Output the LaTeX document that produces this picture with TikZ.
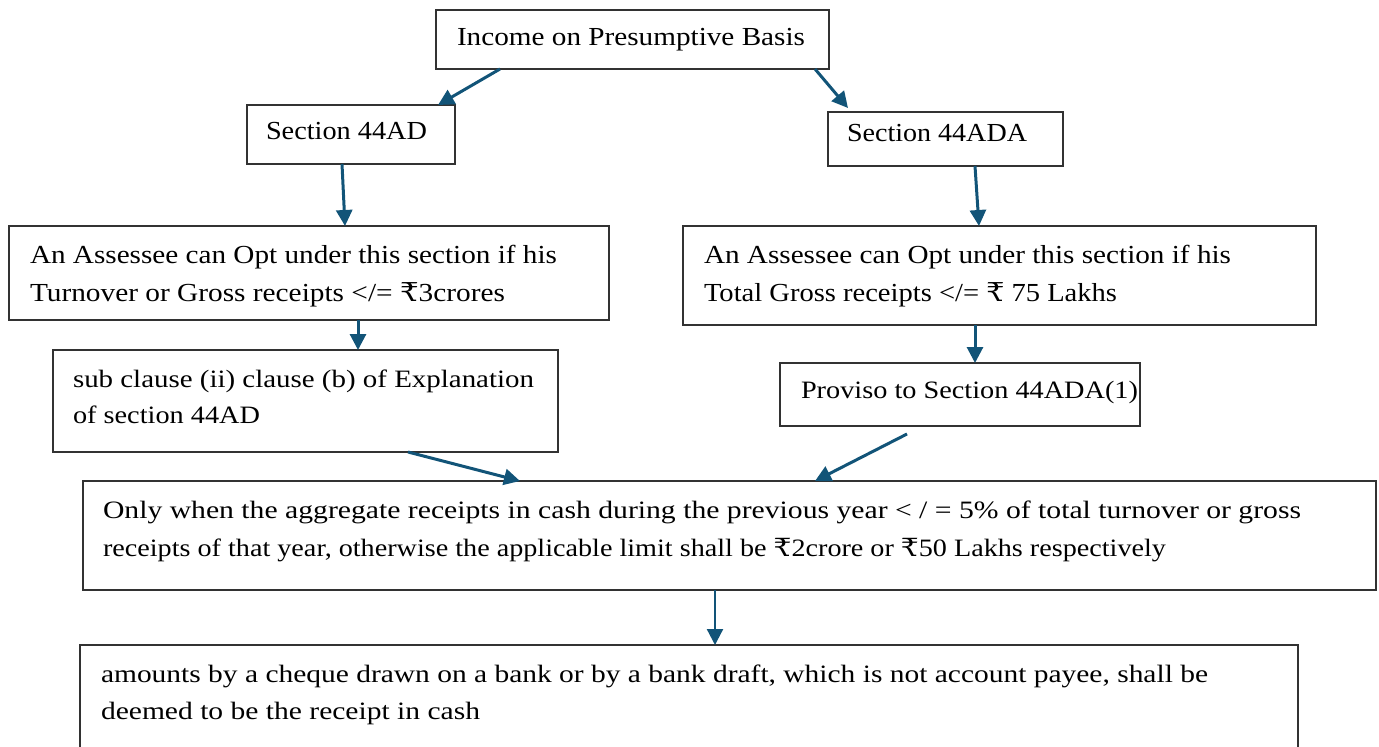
\documentclass[tikz,border=0pt]{standalone}
\usepackage{fontspec}
\setmainfont{Liberation Serif}
\newfontfamily\rupeefont{DejaVu Serif}
\usepackage{graphicx}
\usetikzlibrary{arrows.meta,calc}
\definecolor{arrowblue}{RGB}{18,84,120}
\definecolor{boxline}{RGB}{50,50,50}
% set a line of text to an exact width, keeping its height
\newcommand{\fitw}[2]{\resizebox{#1pt}{\height}{#2}}
\newcommand{\Rs}{{\rupeefont ₹}}
\begin{document}
\begin{tikzpicture}[x=1pt,y=-1pt,
  box/.style={draw=boxline,line width=1.6pt,rectangle,inner sep=0pt,outer sep=0pt,anchor=north west},
  txt/.style={inner sep=0pt,outer sep=0pt,anchor=base west,font=\fontsize{26}{38}\selectfont},
  small/.style={txt,font=\fontsize{25}{36}\selectfont},
  arr/.style={draw=arrowblue,line width=3pt,-{Triangle[length=16pt,width=16pt]}},
  thinarr/.style={arr,line width=2.3pt}]
\useasboundingbox (0,0) rectangle (1379,747);
\clip (0,0) rectangle (1379,747);

% boxes
\node[box,minimum width=393pt,minimum height=59pt]  (top)    at (436,10)  {};
\node[box,minimum width=208pt,minimum height=59pt]  (s44ad)  at (247,105) {};
\node[box,minimum width=235pt,minimum height=54pt]  (s44ada) at (828,112) {};
\node[box,minimum width=600pt,minimum height=94pt]  (lbig)   at (9,226)   {};
\node[box,minimum width=633pt,minimum height=99pt]  (rbig)   at (683,226) {};
\node[box,minimum width=505pt,minimum height=102pt] (sub)    at (53,350)  {};
\node[box,minimum width=360pt,minimum height=63pt]  (prov)   at (780,363) {};
\node[box,minimum width=1293pt,minimum height=109pt] (only)  at (83,481)  {};
\node[box,minimum width=1218pt,minimum height=120pt] (bottom) at (80,645) {};

% texts
\node[txt] (ttop) at (457,45) {\fitw{348}{Income on Presumptive Basis}};
\node[txt] (ta) at (266,139) {\fitw{161}{Section 44AD}};
\node[txt] (tb) at (847,141) {\fitw{180}{Section 44ADA}};
\node[txt] (tl1) at (30,263) {\fitw{527}{An Assessee can Opt under this section if his}};
\node[txt] (tl2) at (30,301) {\fitw{475}{Turnover or Gross receipts </= \Rs3crores}};
\node[txt] (tr1) at (704,263) {\fitw{527}{An Assessee can Opt under this section if his}};
\node[txt] (tr2) at (704,301) {\fitw{413}{Total Gross receipts </= \Rs{} 75 Lakhs}};
\node[small] (ts1) at (73,387) {\fitw{461}{sub clause (ii) clause (b) of Explanation}};
\node[small] (ts2) at (73,423) {\fitw{187}{of section 44AD}};
\node[small] (tp) at (801,398) {\fitw{337}{Proviso to Section 44ADA(1)}};
\node[small] (to1) at (103,518) {\fitw{1198}{Only when the aggregate receipts in cash during the previous year < / = 5\% of total turnover or gross}};
\node[small] (to2) at (103,556) {\fitw{1063}{receipts of that year, otherwise the applicable limit shall be \Rs2crore or \Rs50 Lakhs respectively}};
\node[small] (tm1) at (101,682) {\fitw{1107}{amounts by a cheque drawn on a bank or by a bank draft, which is not account payee, shall be}};
\node[small] (tm2) at (101,719) {\fitw{379}{deemed to be the receipt in cash}};

% connectors
\draw[arr] ($(top.south west)+(64,0)$) -- ($(s44ad.north west)+(191,0)$);
\draw[arr] ($(top.south west)+(379,0)$) -- ($(s44ada.north west)+(20,-4)$);
\draw[arr] ($(s44ad.south west)+(95,0)$) -- ($(lbig.north west)+(336,0)$);
\draw[arr] ($(s44ada.south west)+(147,0)$) -- ($(rbig.north west)+(296,0)$);
\draw[arr] ($(lbig.south west)+(349,0)$) -- ($(sub.north west)+(305,0)$);
\draw[arr] ($(rbig.south west)+(292,0)$) -- ($(prov.north west)+(195,0)$);
\draw[arr] ($(sub.south west)+(355,0)$) -- ($(only.north west)+(437,0)$);
\draw[arr] ($(prov.south west)+(127,8)$) -- ($(only.north west)+(732,0)$);
\draw[thinarr] ($(only.south west)+(632,0)$) -- ($(bottom.north west)+(635,0)$);
\end{tikzpicture}
\end{document}
